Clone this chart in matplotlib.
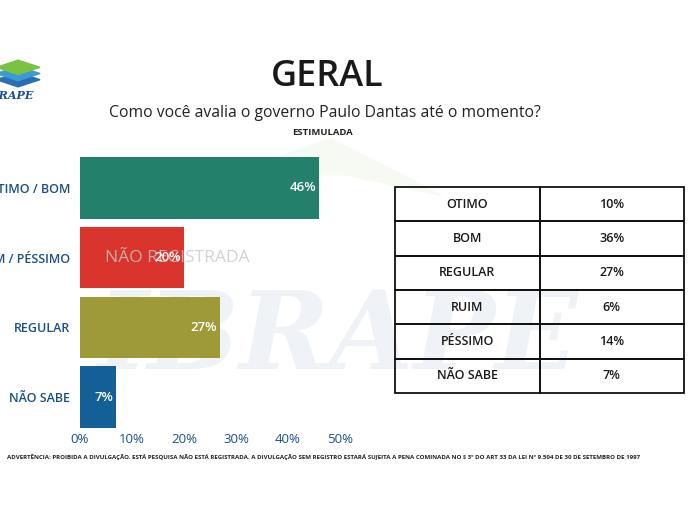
import matplotlib.pyplot as plt
from matplotlib.patches import Polygon

plt.rcParams['font.family'] = ['Open Sans', 'DejaVu Sans']

# dados do gráfico
categorias = ['ÓTIMO / BOM', 'RUIM / PÉSSIMO', 'REGULAR', 'NÃO SABE']
valores = [46, 20, 27, 7]
cores = ['#23806a', '#d9352c', '#9e9a37', '#145f95']
x_ticks = [0, 10, 20, 30, 40, 50]

# dados da tabela
tab_itens = ['OTIMO', 'BOM', 'REGULAR', 'RUIM', 'PÉSSIMO', 'NÃO SABE']
tab_valores = ['10%', '36%', '27%', '6%', '14%', '7%']

fig = plt.figure(figsize=(6.9, 5.14), dpi=100)
fig.patch.set_facecolor('white')

# marca d'água de fundo (eixo atrás de tudo)
bg = fig.add_axes([0, 0, 1, 1], zorder=-1)
bg.axis('off')
bg.set_xlim(0, 1)
bg.set_ylim(0, 1)
bg.text(0.49, 0.34, 'IBRAPE', fontsize=78, color='#eff2f7', family='DejaVu Serif',
        style='italic', weight='bold', ha='center', va='center')
bg.add_patch(Polygon([[0.33, 0.66], [0.48, 0.73], [0.64, 0.62], [0.50, 0.66]], closed=True,
                     color='#f7faf3'))

# títulos
fig.text(0.474, 0.851, 'GERAL', fontsize=26, weight='semibold', color='#1a1a1a', ha='center', va='center')
fig.text(0.471, 0.780, 'Como você avalia o governo Paulo Dantas até o momento?',
         fontsize=11.3, color='#222222', ha='center', va='center')
fig.text(0.468, 0.743, 'ESTIMULADA', fontsize=6.8, weight='bold', color='#222222', ha='center', va='center')

# logo (cortado na borda)
logo_cores = ['#2a6fb4', '#3a9ad5', '#7cc242']
for i, c in enumerate(logo_cores):
    y0 = 0.845 + i * 0.012
    fig.patches.append(Polygon([[-0.005, y0], [0.026, y0 + 0.014], [0.058, y0], [0.026, y0 - 0.014]],
                               closed=True, transform=fig.transFigure, color=c, zorder=2))
fig.text(-0.023, 0.815, 'IBRAPE', fontsize=8, family='DejaVu Serif', style='italic',
         weight='bold', color='#1d4e9a', ha='left', va='center')

# gráfico de barras
ax = fig.add_axes([80 / 690, 82 / 514, 260 / 690, 279 / 514])
ax.set_facecolor('none')
pos = range(len(categorias))
ax.barh(pos, valores, height=0.88, color=cores, zorder=2)
for i, v in enumerate(valores):
    ax.text(v - 0.6, i, f'{v}%', color='white', fontsize=9.5, weight='semibold',
            ha='right', va='center', zorder=4)
ax.set_xlim(0, 50)
ax.set_ylim(3.5, -0.5)
ax.set_yticks(list(pos))
ax.set_yticklabels(categorias, fontsize=9, weight='semibold', color='#1b4f88')
ax.set_xticks(x_ticks)
ax.set_xticklabels([f'{t}%' for t in x_ticks], fontsize=9.5, color='#1b4f88')
ax.tick_params(length=0)
ax.tick_params(axis='x', pad=1)
ax.tick_params(axis='y', pad=7)
for s in ax.spines.values():
    s.set_visible(False)

# carimbo "NÃO REGISTRADA"
ax.text(4.8, 1, 'NÃO REGISTRADA', fontsize=12.5, color='#c8c8c8', alpha=0.8,
        ha='left', va='center', zorder=3)

# tabela
axt = fig.add_axes([395 / 690, 121 / 514, 289 / 690, 206 / 514])
axt.axis('off')
tabela = axt.table(cellText=[[a, b] for a, b in zip(tab_itens, tab_valores)],
                   cellLoc='center', bbox=[0, 0, 1, 1], colWidths=[0.5, 0.5])
tabela.auto_set_font_size(False)
for (r, c), cell in tabela.get_celld().items():
    cell.set_edgecolor('#111111')
    cell.set_linewidth(1.3)
    cell.set_facecolor('none')
    cell.get_text().set_fontsize(9)
    cell.get_text().set_fontweight('semibold')
    cell.get_text().set_color('#1a1a1a')

# rodapé
fig.text(0.01, 0.111,
         'ADVERTÊNCIA: PROIBIDA A DIVULGAÇÃO. ESTÁ PESQUISA NÃO ESTÁ REGISTRADA. A DIVULGAÇÃO SEM REGISTRO '
         'ESTARÁ SUJEITA A PENA COMINADA NO § 3º DO ART 33 DA LEI Nº 9.504 DE 30 DE SETEMBRO DE 1997',
         fontsize=4.4, weight='bold', color='#222222', ha='left', va='center')

fig.savefig('out.png', dpi=100)
